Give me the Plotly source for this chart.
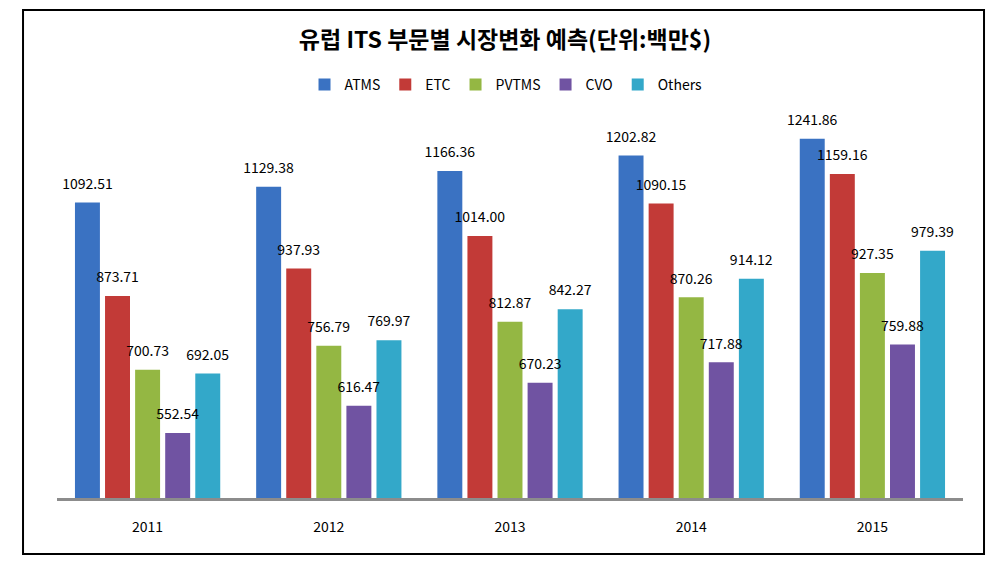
import plotly.graph_objects as go

years = ["2011", "2012", "2013", "2014", "2015"]
series_names = ["ATMS", "ETC", "PVTMS", "CVO", "Others"]
atms = [1092.51, 1129.38, 1166.36, 1202.82, 1241.86]
etc = [873.71, 937.93, 1014.00, 1090.15, 1159.16]
pvtms = [700.73, 756.79, 812.87, 870.26, 927.35]
cvo = [552.54, 616.47, 670.23, 717.88, 759.88]
others = [692.05, 769.97, 842.27, 914.12, 979.39]
series_values = [atms, etc, pvtms, cvo, others]
colors = ["#3a72c2", "#c23a37", "#94b743", "#7053a2", "#33a8c9"]

LABEL_GAP = 16  # invisible spacer lifting labels above bars
FONT = "Noto Sans CJK KR"

fig = go.Figure()
for i, (name, vals, col) in enumerate(zip(series_names, series_values, colors)):
    fig.add_trace(go.Bar(
        x=years, y=vals, name=name, offsetgroup=str(i),
        marker=dict(color=col, line=dict(width=0)),
    ))
for i, (name, vals) in enumerate(zip(series_names, series_values)):
    fig.add_trace(go.Bar(
        x=years, y=[LABEL_GAP] * len(vals), base=vals, offsetgroup=str(i),
        marker=dict(color="rgba(0,0,0,0)", line=dict(width=0)),
        text=[f"{v:.2f}" for v in vals],
        textposition="outside", textangle=0, constraintext="none",
        textfont=dict(size=14, color="#000000", family=FONT),
        cliponaxis=False, showlegend=False, hoverinfo="skip",
    ))

W, H, OFF = 981, 549, 8
fig.update_layout(
    width=W, height=H,
    margin=dict(l=57 - OFF, r=W - (963 - OFF), t=114 - OFF, b=H - (498 - OFF)),
    paper_bgcolor="white", plot_bgcolor="white",
    barmode="group", bargap=0.17, bargroupgap=0.17,
    font=dict(family=FONT, color="#000000"),
    title=dict(text="<b>유럽 ITS 부문별 시장변화 예측(단위:백만$)</b>",
               x=(505 - OFF) / W, xanchor="center", y=1 - (40 - OFF) / H, yanchor="middle",
               font=dict(size=23, color="#000000")),
    legend=dict(orientation="h", x=0.4956, xanchor="center", y=1.0755, yanchor="middle",
                font=dict(size=14), itemwidth=30, traceorder="normal", bgcolor="rgba(0,0,0,0)"),
    showlegend=True,
    shapes=[dict(type="rect", xref="paper", yref="paper",
                 x0=-0.0375, x1=1.0232, y0=-0.1458, y1=1.2708,
                 line=dict(color="#000000", width=2), fillcolor="rgba(0,0,0,0)", layer="below")],
)
fig.update_xaxes(showline=True, linecolor="#8c8c8c", linewidth=3, ticks="",
                 ticklabelstandoff=14, tickfont=dict(size=14, color="#000000"),
                 showgrid=False, zeroline=False)
fig.update_yaxes(range=[400, 1300], visible=False, showgrid=False)

fig.write_html("out.html")
